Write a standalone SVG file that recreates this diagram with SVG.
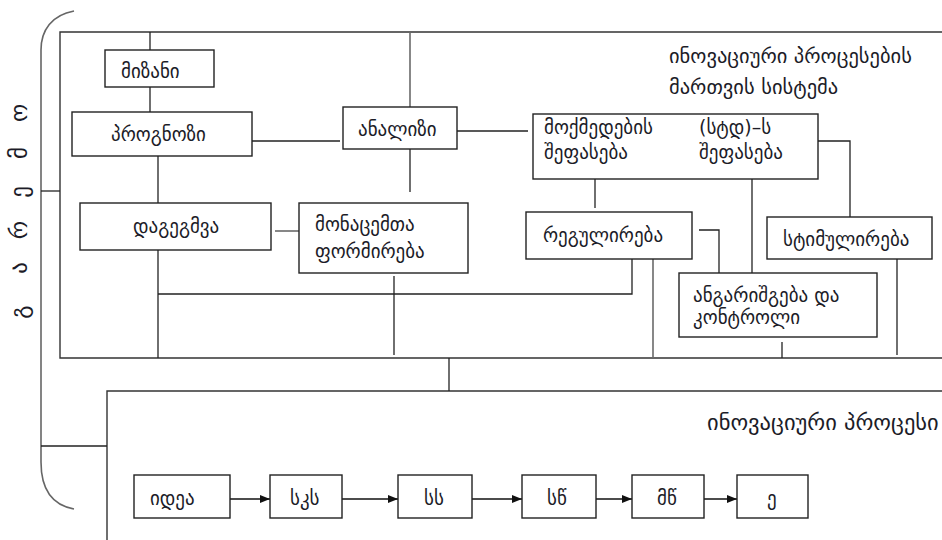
<svg xmlns="http://www.w3.org/2000/svg" width="942" height="540" viewBox="0 0 942 540">
  <defs>
    <marker id="arrow" viewBox="0 0 10 8" refX="10" refY="4" markerWidth="10" markerHeight="8" markerUnits="userSpaceOnUse" orient="auto">
      <path d="M0,0 L10,4 L0,8 Z" fill="#111"/>
    </marker>
    <style>
      .box { fill: #fff; stroke: #222; stroke-width: 1.4; }
      .ln { fill: none; stroke: #222; stroke-width: 1.3; }
      .gray { stroke: #6a6a6a; stroke-width: 1.6; }
      .frame { fill: none; stroke: #333; stroke-width: 1.4; }
      .brace { fill: none; stroke: #666; stroke-width: 1.6; }
      text { font-family: "DejaVu Sans", "Noto Sans", sans-serif; font-size: 19px; fill: #1c1c28; }
      text.head { font-size: 20.5px; }
      text.head2 { font-size: 22.5px; }
      text.side { font-size: 23px; }
      .arr { fill: none; stroke: #111; stroke-width: 1.4; marker-end: url(#arrow); }
    </style>
  </defs>

  <rect width="942" height="540" fill="#fff"/>

  <!-- environment brace and its label -->
  <g id="environment">
    <path class="brace" d="M74,11 C52,15 41,30 41,50 L41,462 C41,490 52,505 74,509"/>
    <text class="side" transform="translate(20,0) rotate(-90)" y="7" text-anchor="middle">
      <tspan x="-312">გ</tspan><tspan x="-268">ა</tspan><tspan x="-230">რ</tspan><tspan x="-192">ე</tspan><tspan x="-153">მ</tspan><tspan x="-113">ო</tspan>
    </text>
  </g>

  <!-- management system frame -->
  <g id="management-system">
    <path class="frame" d="M942,32 L60,32 L60,358 L942,358"/>
    <text class="head" x="669" y="63">ინოვაციური პროცესების</text>
    <text class="head" x="669" y="94">მართვის სისტემა</text>
  </g>

  <!-- innovation process frame -->
  <g id="innovation-process">
    <path class="frame" d="M942,391 L107,391 L107,540"/>
    <text class="head2" x="707" y="430">ინოვაციური პროცესი</text>
  </g>

  <!-- connectors -->
  <g id="connectors">
    <path class="ln" d="M41,191 H60"/>
    <path class="ln" d="M41,446 H107"/>
    <path class="ln" d="M150,32 V50"/>
    <path class="ln" d="M150,87 V112"/>
    <path class="ln" d="M158,156 V203"/>
    <path class="ln" d="M252,141 H340"/>
    <path class="ln gray" d="M410,32 V107"/>
    <path class="ln" d="M410,149 V192"/>
    <path class="ln" d="M457,131 H528"/>
    <path class="ln" d="M815,141 H850 V217"/>
    <path class="ln" d="M595,179 V208"/>
    <path class="ln" d="M752,179 V273"/>
    <path class="ln gray" d="M275,231 H299"/>
    <path class="ln" d="M158,250 V358"/>
    <path class="ln" d="M158,294 H632 V259"/>
    <path class="ln" d="M394,276 V355"/>
    <path class="ln" d="M699,230 H719 V273"/>
    <path class="ln gray" d="M653,259 V358"/>
    <path class="ln" d="M782,342 V358"/>
    <path class="ln" d="M897,259 V355"/>
    <path class="ln" d="M449,358 V391" stroke-width="2.6" stroke="#111"/>
    <path class="ln" d="M671,117 V175" stroke-dasharray="6 3 2 3"/>
    <path class="arr" d="M230,499 H270"/>
    <path class="arr" d="M342,499 H398"/>
    <path class="arr" d="M472,499 H522"/>
    <path class="arr" d="M596,499 H632"/>
    <path class="arr" d="M704,499 H737"/>
  </g>

  <g id="goal">
    <rect class="box" x="105" y="50" width="109" height="37"/>
    <text x="121" y="78">მიზანი</text>
  </g>
  <g id="forecast">
    <rect class="box" x="72" y="112" width="180" height="44"/>
    <text x="111" y="141">პროგნოზი</text>
  </g>
  <g id="analysis">
    <rect class="box" x="343" y="107" width="114" height="42"/>
    <text x="358" y="136">ანალიზი</text>
  </g>
  <g id="assessment">
    <rect class="box" x="533" y="114" width="285" height="65"/>
    <text x="544" y="134">მოქმედების</text>
    <text x="544" y="159">შეფასება</text>
    <text x="699" y="134">(სტდ)–ს</text>
    <text x="699" y="159">შეფასება</text>
  </g>
  <g id="planning">
    <rect class="box" x="80" y="203" width="191" height="47"/>
    <text x="133" y="233">დაგეგმვა</text>
  </g>
  <g id="data-formation">
    <rect class="box" x="299" y="203" width="169" height="70"/>
    <text x="315" y="231">მონაცემთა</text>
    <text x="315" y="258">ფორმირება</text>
  </g>
  <g id="regulation">
    <rect class="box" x="526" y="212" width="166" height="47"/>
    <text x="543" y="242">რეგულირება</text>
  </g>
  <g id="accounting">
    <rect class="box" x="679" y="273" width="198" height="64"/>
    <text x="693" y="302">ანგარიშგება და</text>
    <text x="693" y="324">კონტროლი</text>
  </g>
  <g id="stimulation">
    <rect class="box" x="767" y="217" width="165" height="42"/>
    <text x="783" y="246">სტიმულირება</text>
  </g>

  <g id="idea">
    <rect class="box" x="134" y="475" width="96" height="43"/>
    <text x="150" y="505">იდეა</text>
  </g>
  <g id="sks">
    <rect class="box" x="270" y="475" width="72" height="43"/>
    <text x="290" y="505">სკს</text>
  </g>
  <g id="ss">
    <rect class="box" x="398" y="475" width="74" height="43"/>
    <text x="424" y="505">სს</text>
  </g>
  <g id="sts">
    <rect class="box" x="522" y="475" width="74" height="43"/>
    <text x="547" y="505">სწ</text>
  </g>
  <g id="mts">
    <rect class="box" x="632" y="475" width="72" height="43"/>
    <text x="657" y="505">მწ</text>
  </g>
  <g id="e">
    <rect class="box" x="737" y="475" width="71" height="43"/>
    <text x="767" y="505">ე</text>
  </g>
</svg>
